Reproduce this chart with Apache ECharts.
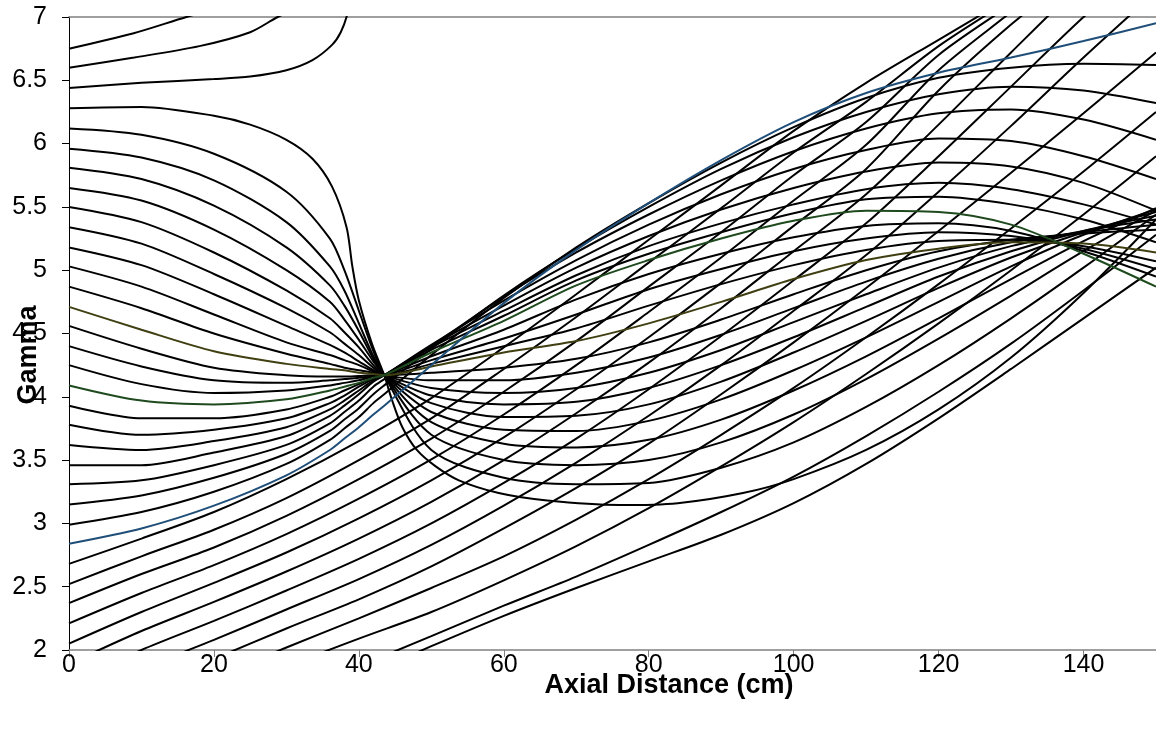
<!DOCTYPE html>
<html><head><meta charset="utf-8">
<script src="https://cdn.jsdelivr.net/npm/echarts/dist/echarts.min.js"></script>
<style>html,body{margin:0;padding:0;background:#fff}#c{width:1156px;height:729px}</style>
</head><body><div id="c"></div>
<script>
// x positions (cm)
const xGrid = [0,10,20,30,36,38,40,42,43.5,50,60,70,80,90,100,110,120,130,140,150];
const xLow = [0,10,20,30,40,50,60,70,80,90,100,110,120,130,140,150];
const xTicks = [0,20,40,60,80,100,120,140];
const xTitle = 'Axial Distance (cm)';
const yTitle = 'Gamma';
// lower family (rising lines), on xLow
const B8 = [0.85,1.08,1.31,1.54,1.78,2.03,2.27,2.49,2.70,2.91,3.16,3.47,3.83,4.22,4.62,5.02];
const B7 = [0.9,1.15,1.39,1.62,1.87,2.11,2.35,2.58,2.83,3.09,3.37,3.69,4.04,4.42,4.84,5.28];
const B6 = [1.10,1.40,1.63,1.87,2.09,2.30,2.55,2.82,3.12,3.45,3.80,4.18,4.58,5.00,5.44,5.90];
const B5 = [1.26,1.55,1.78,2.02,2.25,2.49,2.74,3.03,3.35,3.70,4.07,4.47,4.89,5.33,5.78,6.25];
const B4 = [1.42,1.70,1.93,2.17,2.40,2.66,2.96,3.28,3.63,4.02,4.43,4.86,5.31,5.77,6.24,6.72];
const B3 = [1.58,1.85,2.08,2.32,2.56,2.83,3.14,3.48,3.85,4.25,4.68,5.12,5.62,6.14,6.68,7.2];
const B2 = [1.73,2.00,2.23,2.47,2.72,3.00,3.32,3.67,4.06,4.48,4.92,5.37,5.90,6.45,7.0,7.5];
const B1 = [1.89,2.15,2.38,2.62,2.88,3.17,3.50,3.87,4.27,4.70,5.15,5.60,6.15,6.72,7.28,7.8];
const k00 = [2.05,2.30,2.53,2.77,3.04,3.34,3.68,4.06,4.47,4.90,5.35,5.80,6.42,6.94,7.4,7.9];
const k01 = [2.21,2.45,2.67,2.915,3.195,3.505,3.86,4.25,4.67,5.10,5.55,5.99,6.58,7.04,7.5,8.0];
const k02 = [2.37,2.60,2.81,3.06,3.35,3.67,4.04,4.44,4.87,5.30,5.75,6.17,6.70,7.10,7.5,8.0];
const k03 = [2.52,2.74,2.95,3.20,3.50,3.83,4.22,4.63,5.06,5.49,5.93,6.33,6.77,7.14,7.5,8.0];
const k04 = [2.68,2.88,3.09,3.35,3.65,3.99,4.39,4.81,5.24,5.67,6.10,6.48,6.82,7.16,7.5,8.0];
// blue, on xGrid
const k05 = [2.84,2.96,3.14,3.38,3.58,3.67,3.76,3.86,3.93,4.25,4.74,5.16,5.53,5.87,6.17,6.40,6.56,6.68,6.81,6.95];
const k06 = [2.99,3.09,3.25,3.47,3.66,3.75,3.84,3.95,4.02,4.33,4.78,5.18,5.53,5.85,6.13,6.36,6.52,6.60,6.63,6.62];
const k07 = [3.15,3.22,3.36,3.55,3.73,3.82,3.91,4.02,4.09,4.38,4.80,5.17,5.50,5.80,6.05,6.25,6.39,6.45,6.42,6.32];
const k08 = [3.31,3.34,3.46,3.62,3.79,3.88,3.97,4.08,4.14,4.40,4.79,5.14,5.44,5.71,5.94,6.12,6.24,6.27,6.19,6.03];
const k09 = [3.46,3.46,3.56,3.69,3.85,3.93,4.02,4.12,4.17,4.41,4.76,5.08,5.36,5.60,5.80,5.95,6.04,6.02,5.90,5.72];
const k10 = [3.62,3.58,3.65,3.76,3.90,3.97,4.05,4.13,4.17,4.40,4.72,5.02,5.27,5.48,5.65,5.78,5.85,5.82,5.69,5.47];
const k11 = [3.78,3.70,3.74,3.83,3.95,4.01,4.08,4.14,4.17,4.39,4.68,4.96,5.19,5.37,5.52,5.64,5.69,5.64,5.52,5.36];
const k12 = [3.93,3.83,3.83,3.90,4.00,4.05,4.10,4.15,4.17,4.37,4.64,4.92,5.13,5.30,5.45,5.56,5.58,5.52,5.40,5.22];
// green
const k13 = [4.09,3.97,3.94,3.98,4.05,4.08,4.11,4.15,4.17,4.35,4.60,4.88,5.08,5.25,5.39,5.47,5.46,5.36,5.13,4.87];
const k14 = [4.25,4.10,4.03,4.05,4.09,4.11,4.13,4.16,4.17,4.32,4.53,4.77,4.97,5.13,5.26,5.35,5.37,5.31,5.15,4.95];
const k15 = [4.40,4.24,4.13,4.11,4.13,4.14,4.15,4.165,4.17,4.29,4.46,4.65,4.85,5.01,5.15,5.25,5.30,5.27,5.17,5.01];
const k16 = [4.56,4.38,4.23,4.17,4.16,4.16,4.165,4.17,4.17,4.26,4.40,4.54,4.72,4.89,5.04,5.16,5.23,5.24,5.19,5.07];
// olive
const k17 = [4.71,4.53,4.36,4.26,4.22,4.21,4.19,4.18,4.17,4.24,4.35,4.44,4.58,4.75,4.93,5.08,5.17,5.22,5.21,5.14];
const k18 = [4.87,4.70,4.50,4.34,4.26,4.23,4.21,4.19,4.17,4.19,4.23,4.30,4.43,4.61,4.81,5.00,5.15,5.24,5.29,5.32];
const k19 = [5.03,4.87,4.65,4.43,4.33,4.29,4.25,4.20,4.17,4.13,4.13,4.19,4.31,4.49,4.70,4.91,5.09,5.22,5.30,5.36];
const k20 = [5.18,5.04,4.81,4.56,4.41,4.35,4.28,4.21,4.17,4.07,4.03,4.07,4.19,4.37,4.59,4.81,5.02,5.19,5.31,5.40];
const k21 = [5.34,5.21,4.97,4.70,4.51,4.42,4.33,4.23,4.17,4.01,3.94,3.96,4.07,4.25,4.47,4.71,4.95,5.15,5.31,5.43];
const k22 = [5.50,5.38,5.14,4.84,4.62,4.51,4.39,4.25,4.17,3.95,3.84,3.85,3.94,4.12,4.35,4.60,4.86,5.10,5.30,5.46];
const k23 = [5.65,5.55,5.32,5.00,4.75,4.61,4.45,4.28,4.17,3.88,3.74,3.73,3.81,3.98,4.21,4.47,4.75,5.03,5.28,5.48];
const k24 = [5.81,5.72,5.51,5.18,4.88,4.72,4.52,4.30,4.17,3.80,3.63,3.60,3.66,3.82,4.05,4.32,4.62,4.93,5.23,5.49];
const k25 = [5.96,5.89,5.71,5.38,5.03,4.84,4.58,4.32,4.17,3.70,3.50,3.46,3.50,3.64,3.86,4.14,4.46,4.80,5.15,5.47];
const k26 = [6.12,6.07,5.92,5.62,5.25,5.00,4.68,4.36,4.17,3.58,3.36,3.31,3.32,3.44,3.64,3.92,4.25,4.62,5.02,5.44];
// curves with their own x positions
const x27 = [0,10,20,25,30,33.6,36.3,38.3,39.1,40,41.8,43.5,44.6,46,48,50.6,53.8,59.3,66,76,84,93,100,110,120,130,140,150];
const k27 = [6.28,6.29,6.22,6.15,6.03,5.88,5.66,5.34,5.03,4.76,4.42,4.17,3.97,3.76,3.58,3.45,3.34,3.24,3.18,3.145,3.16,3.24,3.35,3.58,3.90,4.31,4.82,5.40];
const x28 = [0,10,20,25,30,33.6,36.3,37.5,38.4,39];
const k28 = [6.44,6.48,6.51,6.53,6.58,6.66,6.78,6.88,7.02,7.2];
const x29 = [0,9,18,25,28.8,32];
const k29 = [6.60,6.68,6.77,6.88,7.0,7.08];
const x30 = [0,8.8,16.2,20];
const k30 = [6.75,6.87,7.0,7.06];

const BLACK = '#000000', BLUE = '#1F4E79', GREEN = '#1E4A1E', OLIVE = '#3F3F12';

function line(xs, ys, color) {
  return {
    type: 'line', data: xs.map((x, i) => [x, ys[i]]), smooth: 0.3, symbol: 'none',
    showSymbol: false, clip: true, silent: true,
    lineStyle: { color: color, width: 2 }, z: color === BLACK ? 2 : 3
  };
}
const lowFamily = [B8,B7,B6,B5,B4,B3,B2,B1,k00,k01,k02,k03,k04];
const midFamily = [k06,k07,k08,k09,k10,k11,k12,k14,k15,k16,k18,k19,k20,k21,k22,k23,k24,k25,k26];
const series = lowFamily.map(ys => line(xLow, ys, BLACK)).concat(midFamily.map(ys => line(xGrid, ys, BLACK)));
series.push(line(x27, k27, BLACK), line(x28, k28, BLACK), line(x29, k29, BLACK), line(x30, k30, BLACK));
series.push(line(xGrid, k17, OLIVE), line(xGrid, k13, GREEN), line(xGrid, k05, BLUE));

const FONT = "'Liberation Sans', Arial, sans-serif";
const chart = echarts.init(document.getElementById('c'), null, { renderer: 'canvas' });
chart.setOption({
  animation: false,
  backgroundColor: '#ffffff',
  grid: { left: 69, right: 0, top: 17, bottom: 79, containLabel: false, outerBoundsMode: 'none' },
  xAxis: [{
    type: 'value', min: 0, max: 150, interval: 20,
    axisLine: { onZero: false, lineStyle: { color: '#808080', width: 1.5 } },
    axisTick: { show: true, inside: false, length: 7, customValues: xTicks, lineStyle: { color: '#808080' } },
    axisLabel: { fontSize: 25, color: '#000', fontFamily: FONT, margin: 3, customValues: xTicks },
    splitLine: { show: false }
  }, {
    type: 'value', position: 'top', min: 0, max: 150,
    axisLine: { onZero: false, lineStyle: { color: '#808080', width: 1.5 } },
    axisTick: { show: false }, axisLabel: { show: false }, splitLine: { show: false }
  }],
  yAxis: {
    type: 'value', min: 2, max: 7, interval: 0.5,
    axisLine: { show: true, onZero: false, lineStyle: { color: '#000', width: 1 } },
    axisTick: { show: true, inside: false, length: 7, lineStyle: { color: '#000' } },
    axisLabel: { fontSize: 25, color: '#000', fontFamily: FONT, margin: 22 },
    splitLine: { show: false }
  },
  graphic: [
    { type: 'text', x: 669, y: 686, z: 100,
      style: { text: xTitle, font: "bold 27px 'Liberation Sans', Arial, sans-serif", fill: '#000', textAlign: 'center', textVerticalAlign: 'middle' } },
    { type: 'text', x: 29, y: 355, rotation: Math.PI / 2, z: 100,
      style: { text: yTitle, font: "bold 27px 'Liberation Sans', Arial, sans-serif", fill: '#000', textAlign: 'center', textVerticalAlign: 'middle' } }
  ],
  series: series
});
</script></body></html>
